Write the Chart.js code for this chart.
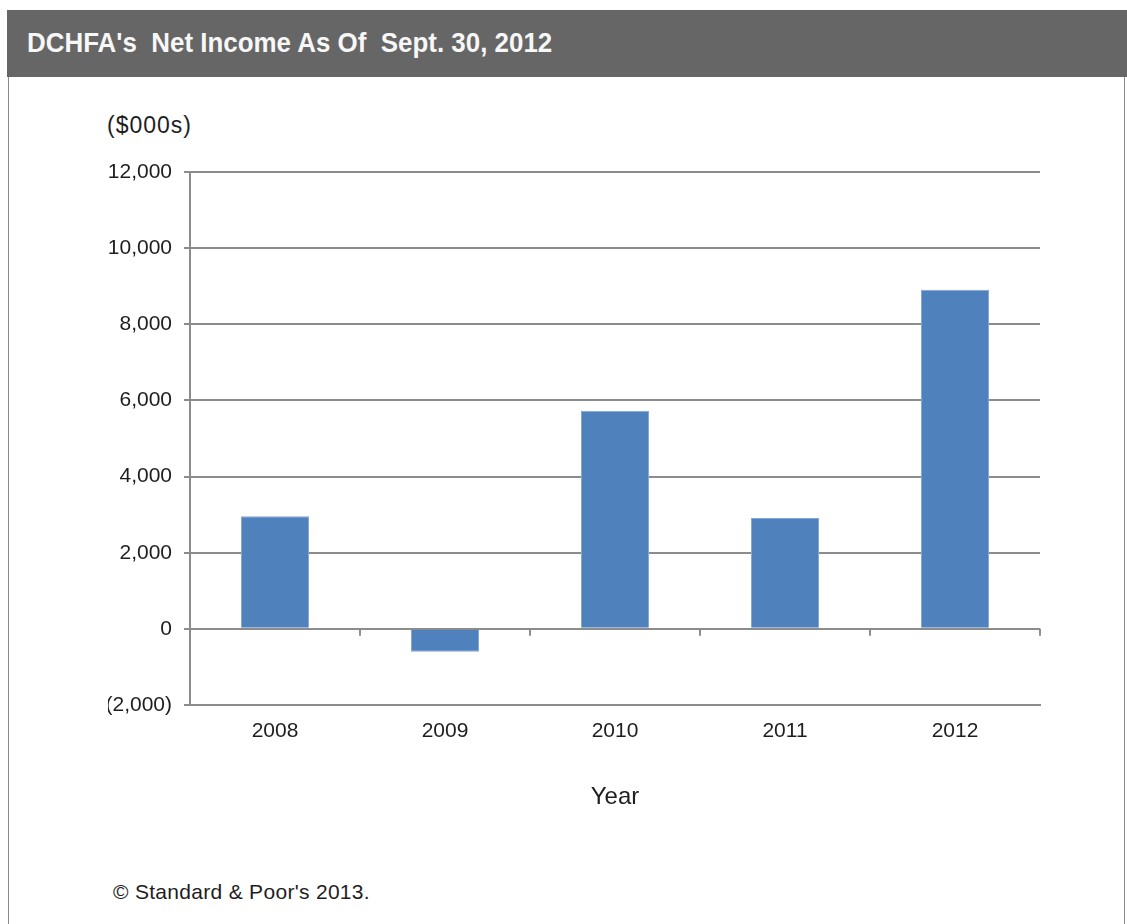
<!DOCTYPE html>
<html>
<head>
<meta charset="utf-8">
<title>DCHFA Net Income</title>
<script src="https://cdn.jsdelivr.net/npm/chart.js@4.4.0/dist/chart.umd.min.js"></script>
<style>
  body { margin: 0; background: #fff; font-family: Arial, "Liberation Sans", sans-serif; }
  #header {
    position: absolute; left: 7px; top: 10px; width: 1120px; height: 67px;
    background: #666666; color: #f7f7f7;
    font-family: "Liberation Sans Narrow", "Arial Narrow", Arial, sans-serif;
    font-weight: bold; font-size: 27px; line-height: 67px;
    padding-left: 20px; box-sizing: border-box;
  }
  #header span { display: inline-block; transform: scaleX(0.96); transform-origin: left center; white-space: nowrap; }
  #box {
    position: absolute; left: 8px; top: 77px; width: 1117px; bottom: 0;
    border-left: 1px solid #8a8a8a; border-right: 1px solid #8a8a8a; box-sizing: border-box;
  }
  #unit { position: absolute; left: 107px; top: 112px; font-size: 23px; letter-spacing: 1px; color: #1e1e1e; }
  #source { position: absolute; left: 113px; top: 880px; font-size: 21px; letter-spacing: 0.3px; color: #1e1e1e; }
  #myChart { position: absolute; left: 0; top: 0; }
</style>
</head>
<body>
<div id="header"><span>DCHFA's&nbsp; Net Income As Of&nbsp; Sept. 30, 2012</span></div>
<div id="box"></div>
<div id="unit">($000s)</div>
<div id="source">© Standard &amp; Poor's 2013.</div>
<canvas id="myChart" width="1127" height="924"></canvas>
<script>
// net income by fiscal year, in thousands of dollars
const years = ["2008", "2009", "2010", "2011", "2012"];
const netIncome = [2960, -600, 5730, 2910, 8910];

const barColor = "#4f81bd";
const lineColor = "#8c8c8c";
const textColor = "#1e1e1e";

// short tick marks on the zero line between the years
const zeroTicks = {
    id: "zeroTicks",
    afterDatasetsDraw(chart) {
        const x = chart.scales.x;
        const y = chart.scales.y;
        const y0 = y.getPixelForValue(0);
        const ctx = chart.ctx;
        ctx.save();
        ctx.strokeStyle = lineColor;
        ctx.lineWidth = 2;
        for (let i = 1; i <= years.length; i++) {
            const px = Math.round(x.getPixelForValue(i - 0.5));
            ctx.beginPath();
            ctx.moveTo(px, y0);
            ctx.lineTo(px, y0 + 7);
            ctx.stroke();
        }
        ctx.restore();
    }
};

new Chart("myChart", {
    type: "bar",
    data: {
        labels: years,
        datasets: [{
            data: netIncome,
            backgroundColor: barColor,
            borderColor: "#86a6d3",
            borderWidth: 1,
            categoryPercentage: 1,
            barPercentage: 0.4
        }]
    },
    options: {
        responsive: false,
        animation: false,
        layout: { padding: { left: 108, right: 87, top: 172, bottom: 109 } },
        plugins: {
            legend: { display: false },
            tooltip: { enabled: false }
        },
        scales: {
            x: {
                afterFit: (scale) => { scale.height = 110; },
                grid: { display: false },
                border: { display: true, color: lineColor, width: 2 },
                ticks: { color: textColor, font: { family: "Arial", size: 21 }, padding: 6 },
                title: {
                    display: true,
                    text: "Year",
                    color: textColor,
                    font: { family: "Arial", size: 24 },
                    padding: { top: 0, bottom: 3 }
                }
            },
            y: {
                min: -2000,
                max: 12000,
                afterFit: (scale) => { scale.width = 82; },
                grid: { color: lineColor, lineWidth: 2, drawTicks: true, tickLength: 6 },
                border: { display: true, color: lineColor, width: 2 },
                ticks: {
                    stepSize: 2000,
                    color: textColor,
                    font: { family: "Arial", size: 21 },
                    padding: 12,
                    callback: (v) => v < 0 ? "(" + Math.abs(v).toLocaleString("en-US") + ")" : v.toLocaleString("en-US")
                }
            }
        }
    },
    plugins: [zeroTicks]
});
</script>
</body>
</html>
